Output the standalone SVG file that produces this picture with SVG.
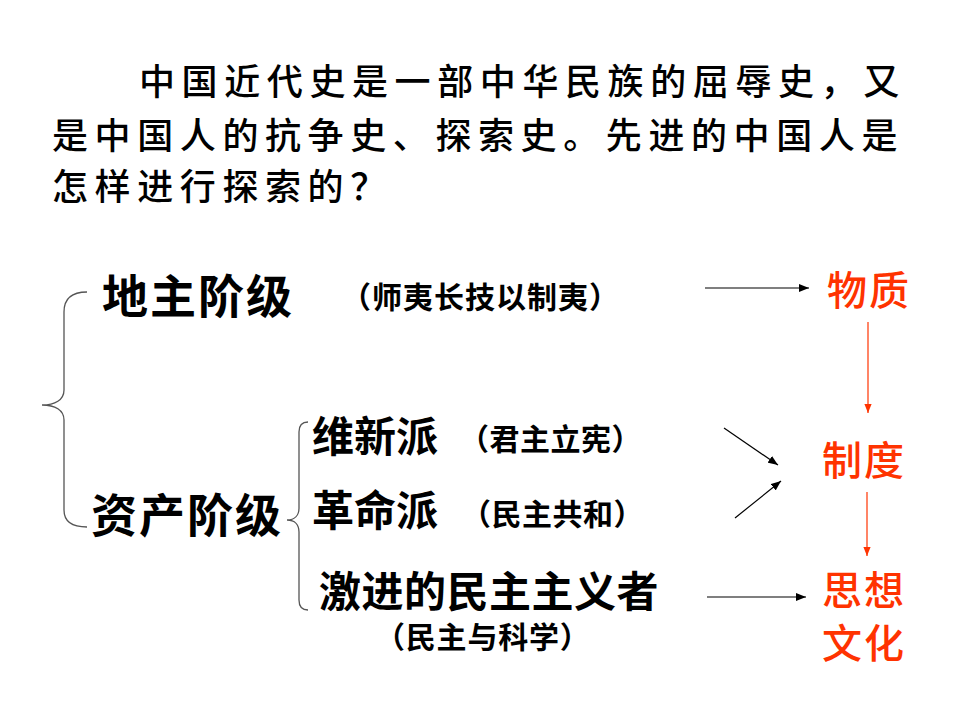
<svg xmlns="http://www.w3.org/2000/svg" width="960" height="720" viewBox="0 0 960 720">
<defs>
<style>
.para{font-family:"Noto Sans CJK SC","Noto Sans CJK JP",sans-serif;font-size:36px;font-weight:500;fill:#000;letter-spacing:6.6px}
.h{font-family:"Noto Sans CJK SC",sans-serif;font-weight:bold;fill:#000}
.sub{font-family:"Noto Sans CJK SC",sans-serif;font-weight:bold;fill:#000;font-size:30px}
.red{font-family:"Noto Sans CJK SC",sans-serif;font-weight:500;fill:#FF3300;font-size:40px;letter-spacing:2px}
.brace{fill:none;stroke:#555;stroke-width:1.3}
.blk{stroke:#000;stroke-width:1.2;fill:none}
.rl{stroke:#FF3300;stroke-width:1.2;fill:none}
</style>
<marker id="ab" viewBox="0 0 10 8" refX="10" refY="4" markerWidth="10" markerHeight="8" markerUnits="userSpaceOnUse" orient="auto"><path d="M0,0 L10,4 L0,8 Z" fill="#000"/></marker>
<marker id="ar" viewBox="0 0 10 8" refX="10" refY="4" markerWidth="9" markerHeight="8" markerUnits="userSpaceOnUse" orient="auto"><path d="M0,0 L10,4 L0,8 Z" fill="#FF3300"/></marker>
</defs>
<rect width="960" height="720" fill="#fff"/>
<g id="intro">
<text class="para" x="139" y="95">中国近代史是一部中华民族的屈辱史，又</text>
<text class="para" x="52" y="149">是中国人的抗争史、探索史。先进的中国人是</text>
<text class="para" x="52" y="200">怎样进行探索的？</text>
</g>
<g id="landlord">
<text class="h" x="102" y="313" font-size="46" letter-spacing="2">地主阶级</text>
<text class="sub" x="341" y="308" font-size="31.5" letter-spacing="1">（师夷长技以制夷）</text>
</g>
<g id="bourgeois">
<text class="h" x="91" y="532" font-size="46" letter-spacing="2">资产阶级</text>
</g>
<g id="reformists">
<text class="h" x="312" y="452" font-size="42">维新派</text>
<text class="sub" x="459" y="450" letter-spacing="0.5">（君主立宪）</text>
</g>
<g id="revolutionaries">
<text class="h" x="312" y="526" font-size="42">革命派</text>
<text class="sub" x="461" y="525" letter-spacing="0.5">（民主共和）</text>
</g>
<g id="radicals">
<text class="h" x="319" y="607" font-size="42" letter-spacing="0.5">激进的民主主义者</text>
<text class="sub" x="375" y="648" letter-spacing="0.8">（民主与科学）</text>
</g>
<g id="material"><text class="red" x="827" y="305">物质</text></g>
<g id="institution"><text class="red" x="822" y="475">制度</text></g>
<g id="culture"><text class="red" x="822" y="605">思想</text><text class="red" x="822" y="658">文化</text></g>
<g id="braces">
<path class="brace" d="M87,292 C72,292 64,298 64,312 L64,390 C64,400 55,405 42,405 C55,405 64,410 64,420 L64,510 C64,522 72,527 87,527"/>
<path class="brace" d="M308,422 C302,422 299,426 299,432 L299,508 C299,515 295,520 287,520 C295,520 299,525 299,532 L299,600 C299,606 302,610 308,610"/>
</g>
<g id="connectors">
<line class="blk" x1="705" y1="288" x2="809" y2="288" marker-end="url(#ab)"/>
<line class="blk" x1="724" y1="428" x2="778" y2="465" marker-end="url(#ab)"/>
<line class="blk" x1="735" y1="518" x2="781" y2="481" marker-end="url(#ab)"/>
<line class="blk" x1="707" y1="597" x2="806" y2="597" marker-end="url(#ab)"/>
<line class="rl" x1="868" y1="322" x2="868" y2="413" marker-end="url(#ar)"/>
<line class="rl" x1="867" y1="492" x2="867" y2="556" marker-end="url(#ar)"/>
</g>
</svg>
